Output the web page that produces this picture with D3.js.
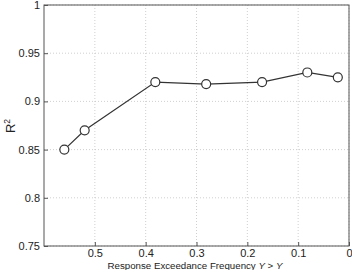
<!DOCTYPE html>
<html><head><meta charset="utf-8">
<script src="https://cdn.jsdelivr.net/npm/d3@7"></script>
<style>body{margin:0;background:#fff}svg{display:block}text{font-family:"Liberation Sans",Arial,sans-serif}</style>
</head><body><svg id="c" width="352" height="270"></svg>
<script>
const freq = [0.56, 0.52, 0.381, 0.281, 0.171, 0.082, 0.022];
const r2 = [0.85, 0.87, 0.92, 0.918, 0.92, 0.93, 0.925];
const xTicks = [0.5, 0.4, 0.3, 0.2, 0.1, 0];
const yTicks = [0.75, 0.8, 0.85, 0.9, 0.95, 1];

const svg = d3.select("#c");
const L = 44, R = 349, T = 5, B = 246;
const x = d3.scaleLinear().domain([0.6, 0]).range([L, R]);
const y = d3.scaleLinear().domain([0.75, 1]).range([B, T]);

// grid
svg.append("g").selectAll("line").data(xTicks).join("line")
  .attr("x1", d => x(d)).attr("x2", d => x(d)).attr("y1", T).attr("y2", B)
  .attr("stroke", "#bbb").attr("stroke-width", 0.7).attr("stroke-dasharray", "1,2");
svg.append("g").selectAll("line").data(yTicks).join("line")
  .attr("x1", L).attr("x2", R).attr("y1", d => y(d)).attr("y2", d => y(d))
  .attr("stroke", "#bbb").attr("stroke-width", 0.7).attr("stroke-dasharray", "1,2");

// axes
const fmt = d => String(d);
const xa = svg.append("g").attr("transform", `translate(0,${B})`)
  .call(d3.axisBottom(x).tickValues(xTicks).tickSize(-4).tickPadding(3).tickFormat(fmt));
const ya = svg.append("g").attr("transform", `translate(${L},0)`)
  .call(d3.axisLeft(y).tickValues(yTicks).tickSize(-4).tickPadding(4).tickFormat(fmt));
[xa, ya].forEach(a => {
  a.select(".domain").remove();
  a.selectAll("line").attr("stroke", "#555");
  a.selectAll("text").attr("font-size", 11).attr("fill", "#222");
});
svg.append("rect").attr("x", L).attr("y", T).attr("width", R - L).attr("height", B - T)
  .attr("fill", "none").attr("stroke", "#555").attr("stroke-width", 1);

// line + markers
const line = d3.line().x((d, i) => x(freq[i])).y(d => y(d));
svg.append("path").datum(r2).attr("d", line).attr("fill", "none")
  .attr("stroke", "#333").attr("stroke-width", 1.2);
svg.append("g").selectAll("circle").data(r2).join("circle")
  .attr("cx", (d, i) => x(freq[i])).attr("cy", d => y(d)).attr("r", 4.5)
  .attr("fill", "#fff").attr("stroke", "#333").attr("stroke-width", 1.2);

// labels
const xl = svg.append("text").attr("x", 195).attr("y", 269).attr("text-anchor", "middle")
  .attr("font-size", 9.7).attr("fill", "#222");
xl.append("tspan").text("Response Exceedance Frequency ");
xl.append("tspan").attr("font-style", "italic").text("Y");
xl.append("tspan").text(" > ");
xl.append("tspan").attr("font-style", "italic").text("Y");

const yl = svg.append("text").attr("transform", "translate(15,126) rotate(-90)")
  .attr("text-anchor", "middle").attr("font-size", 13).attr("fill", "#222");
yl.append("tspan").text("R");
yl.append("tspan").attr("font-size", 8.5).attr("dy", -5).text("2");
</script></body></html>
